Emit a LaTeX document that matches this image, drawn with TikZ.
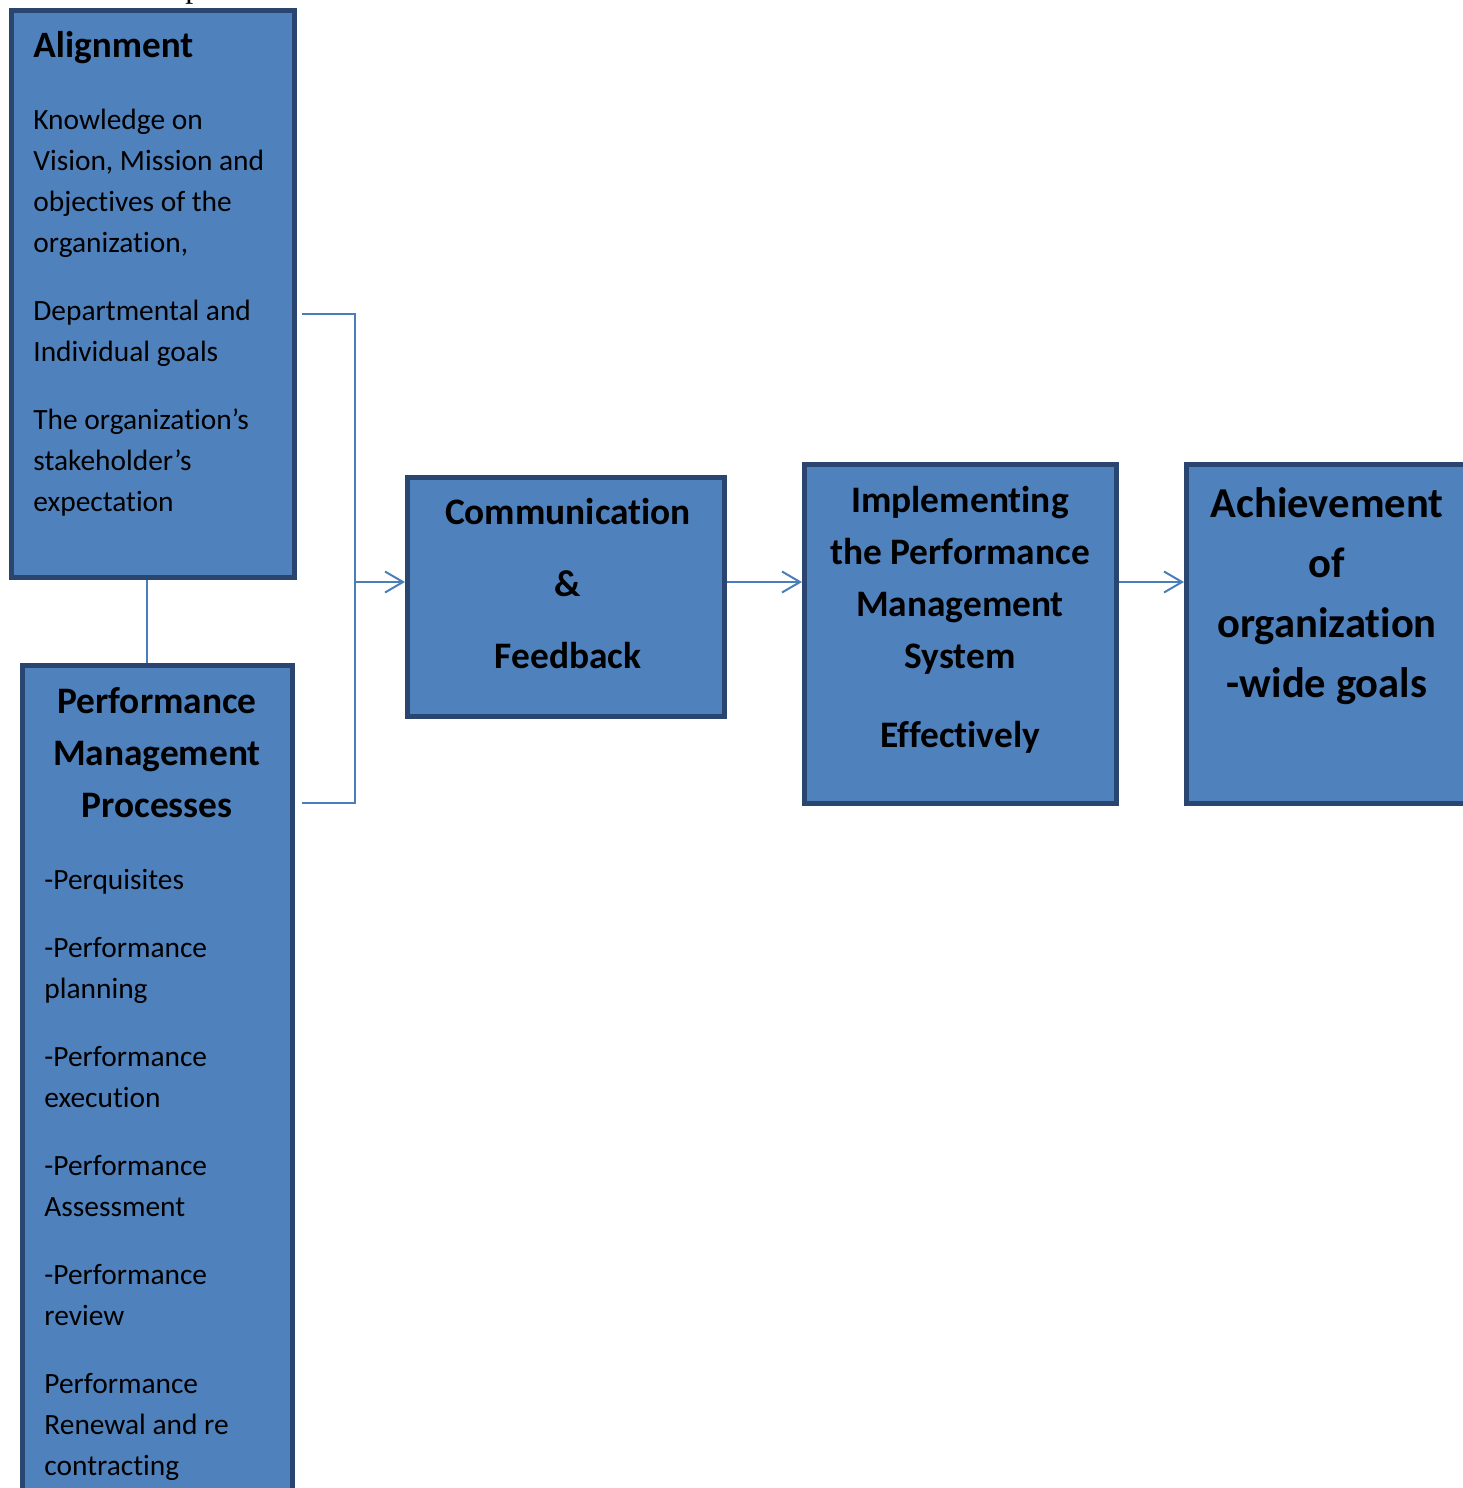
\documentclass[tikz,border=0pt]{standalone}
\usepackage{fontspec}
\setmainfont[RawFeature={-liga}]{Carlito}
\newfontfamily\capfont{Liberation Serif}
\usetikzlibrary{arrows.meta}
\definecolor{boxfill}{HTML}{4F81BD}
\definecolor{boxline}{HTML}{2A4670}
\definecolor{connc}{HTML}{4A7EBB}
\begin{document}
\begin{tikzpicture}[x=0.5pt,y=-0.5pt,
  box/.style={draw=boxline, line width=2.3pt, fill=boxfill, rectangle, inner sep=0pt},
  conn/.style={draw=connc, line width=1pt},
  arr/.style={conn, -{Straight Barb[length=9pt,width=10.5pt,line width=1pt]}},
  txt/.style={inner sep=0pt, anchor=base west},
  ctxt/.style={inner sep=0pt, anchor=base}
]
\useasboundingbox (0,0) rectangle (1462,1488);

% fragment of caption above
\node[txt] (frag) at (185,-3) {\capfont\fontsize{16}{16}\selectfont p};

% boxes
\node[box, minimum width=141.7pt, minimum height=283.7pt] (align) at (153,294) {};
\node[box, minimum width=135.2pt, minimum height=437.35pt] (pmp) at (157.5,1102.65) {};
\node[box, minimum width=158.7pt, minimum height=119.45pt] (comm) at (566,596.75) {};
\node[box, minimum width=155.95pt, minimum height=169.7pt] (impl) at (960.25,634) {};
\node[box, minimum width=166.85pt, minimum height=169.7pt] (achv) at (1353.15,634) {};

% texts
\node[txt] (alignT) at (33,57) {\parbox[t]{135pt}{\fontsize{18.6}{20}\selectfont\bfseries Alignment}};
\node[txt] (alignB) at (33,129) {\parbox[t]{135pt}{\raggedright\fontsize{14.7}{20.5}\selectfont
Knowledge on\\ Vision, Mission and\\ objectives of the\\ organization,\\[13.5pt]
Departmental and\\ Individual goals\\[13.5pt]
The organization’s\\ stakeholder’s\\ expectation}};

\node[ctxt] (pmpT) at (157,713) {\parbox[t]{135pt}{\centering\fontsize{18.7}{26}\selectfont\bfseries
Performance\\ Management\\ Processes}};
\node[txt] (pmpB) at (44,889) {\parbox[t]{125pt}{\raggedright\fontsize{14.7}{20.5}\selectfont
-Perquisites\\[13.5pt]
-Performance\\ planning\\[13.5pt]
-Performance\\ execution\\[13.5pt]
-Performance\\ Assessment\\[13.5pt]
-Performance\\ review\\[13.5pt]
Performance\\ Renewal and re\\ contracting}};

\node[ctxt] (commT) at (568,524) {\parbox[t]{158pt}{\centering\fontsize{18.7}{36}\selectfont\bfseries
Communication\\ \&\\ Feedback}};

\node[ctxt] (implT) at (960,512) {\parbox[t]{155pt}{\centering\fontsize{18.7}{26}\selectfont\bfseries
Implementing\\ the Performance\\ Management\\ System\\[13.5pt] Effectively}};

\node[ctxt] (achvT) at (1327,517) {\parbox[t]{166pt}{\centering\fontsize{21.3}{30}\selectfont\bfseries
Achievement\\ of\\ organization\\ -wide goals}};

% connectors
\draw[conn] ([xshift=-3pt]align.south) -- ([xshift=-3pt]align.south |- pmp.north);
\coordinate (jA) at (302,314);
\coordinate (jB) at (302,803);
\coordinate (jM) at (355,582);
\draw[conn] (jA) -- (jA -| jM) -- (jB -| jM) -- (jB);
\draw[arr] (jM) -- (jM -| comm.west);
\draw[arr] (jM -| comm.east) -- (jM -| impl.west);
\draw[arr] (jM -| impl.east) -- (jM -| achv.west);
\end{tikzpicture}
\end{document}
